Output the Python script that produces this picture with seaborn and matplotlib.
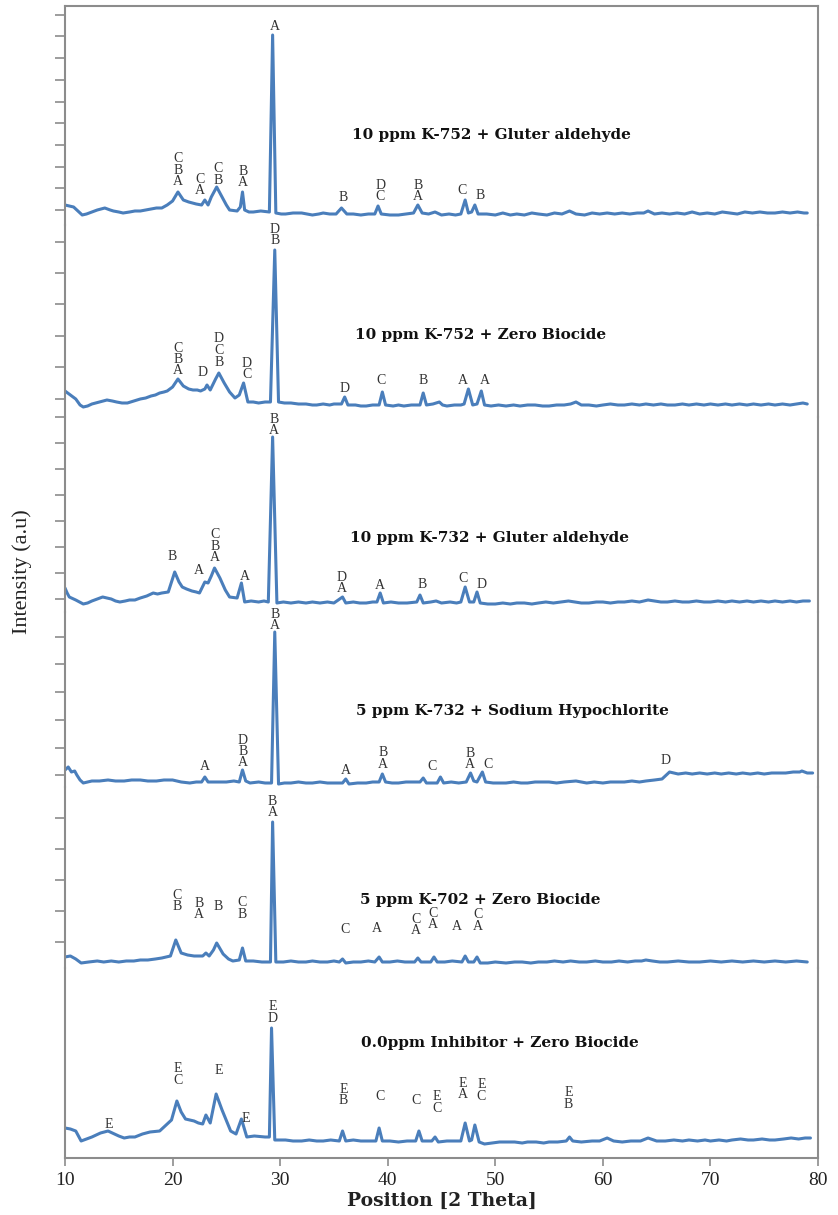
import numpy as np
import pandas as pd
import matplotlib
matplotlib.use("Agg")
import matplotlib.pyplot as plt
import seaborn as sns

sns.set_theme(style="white")
plt.rcParams['font.family'] = ['Liberation Serif', 'DejaVu Serif']

# ---------------- data: (2-theta in degrees, intensity in a.u.) ----------------
p1_pts = [(10.0,20),(10.4,19),(10.8,18),(11.2,14),(11.6,10),(12.0,11),(12.5,13),(13.0,15),(13.7,17),(14.2,15),
          (14.5,14),(15.0,13),(15.4,12),(16.0,13),(16.5,14),(17.0,14),(17.5,15),(18.0,16),(18.5,17),(19.0,17),
          (19.5,20),(20.0,24),(20.5,33),(21.0,25),(21.5,23),(22.2,21),(22.7,20),(23.0,25),(23.3,20),(23.6,28),
          (24.1,38),(24.6,28),(25.0,20),(25.3,15),(26.0,14),(26.3,18),(26.5,33),(26.7,15),(27.1,13),(27.5,13),
          (28.2,14),(29.0,13),(29.3,190),(29.6,12),(30.1,11),(30.5,11),(31.2,12),(32.0,12),(32.5,11),(33.0,10),
          (33.6,11),(34.0,12),(34.6,11),(35.2,11),(35.7,17),(36.2,11),(36.8,11),(37.5,10),(38.2,11),(38.8,11),
          (39.1,19),(39.4,11),(40.2,10),(41.0,10),(41.7,11),(42.4,12),(42.8,20),(43.2,12),(43.8,11),(44.4,13),
          (45.0,10),(45.7,11),(46.3,10),(46.8,11),(47.2,25),(47.5,12),(47.8,13),(48.1,20),(48.4,11),(49.2,11),
          (50.0,10),(50.7,12),(51.4,10),(52.0,11),(52.7,10),(53.4,12),(54.0,11),(54.8,10),(55.5,12),(56.2,11),
          (56.9,14),(57.5,11),(58.3,10),(59.0,12),(59.7,11),(60.4,12),(61.1,11),(61.8,12),(62.5,11),(63.2,12),
          (63.8,12),(64.2,14),(64.8,11),(65.5,12),(66.2,11),(66.9,12),(67.6,11),(68.3,13),(69.0,11),(69.7,12),
          (70.4,11),(71.1,13),(71.8,12),(72.5,11),(73.2,13),(73.9,12),(74.6,13),(75.3,12),(76.0,12),(76.7,13),
          (77.4,12),(78.1,13),(78.7,12),(79.0,12)]

p2_pts = [(10.0,26),(10.5,22),(11.0,18),(11.4,12),(11.7,10),(12.1,11),(12.5,13),(13.2,15),(13.9,17),(14.4,16),
          (14.8,15),(15.3,14),(15.8,14),(16.4,16),(17.0,18),(17.5,19),(18.0,21),(18.4,22),(18.8,24),(19.2,25),
          (19.5,26),(20.0,30),(20.5,38),(21.0,31),(21.5,28),(21.9,27),(22.3,27),(22.6,26),(23.0,28),(23.2,32),
          (23.5,27),(24.0,38),(24.3,44),(24.8,34),(25.3,25),(25.8,19),(26.2,22),(26.6,34),(27.0,15),(27.5,15),
          (28.0,14),(28.6,15),(29.1,15),(29.5,167),(29.85,15),(30.4,14),(31.0,14),(31.7,13),(32.4,13),(33.0,12),
          (33.4,12),(34.0,13),(34.6,12),(35.0,13),(35.7,13),(36.0,20),(36.3,12),(37.0,12),(37.5,11),(38.0,11),
          (38.6,12),(39.2,12),(39.5,25),(39.8,12),(40.5,11),(41.0,12),(41.5,11),(42.2,12),(43.0,12),(43.3,24),
          (43.6,12),(44.2,13),(44.8,15),(45.1,12),(45.5,11),(46.2,12),(46.8,12),(47.1,13),(47.5,28),(47.9,12),
          (48.3,13),(48.7,26),(49.0,12),(49.6,11),(50.3,12),(51.0,11),(51.7,12),(52.3,11),(53.0,12),(53.7,12),
          (54.4,11),(55.0,11),(55.7,12),(56.4,12),(57.0,13),(57.5,15),(58.0,12),(58.7,12),(59.4,11),(60.0,12),
          (60.7,13),(61.4,12),(62.0,12),(62.7,13),(63.4,12),(64.0,13),(64.7,12),(65.4,13),(66.0,12),(66.7,12),
          (67.4,13),(68.0,12),(68.7,13),(69.4,12),(70.0,13),(70.7,12),(71.4,13),(72.0,12),(72.7,13),(73.4,12),
          (74.0,13),(74.7,12),(75.4,13),(76.0,12),(76.7,13),(77.4,12),(78.0,13),(78.6,14),(79.0,13)]

p3_pts = [(10.0,24),(10.2,19),(10.4,15),(11.0,12),(11.7,8),(12.1,9),(12.5,11),(13.0,13),(13.5,15),(13.9,14),
          (14.3,13),(14.7,11),(15.1,10),(15.6,11),(16.0,12),(16.5,12),(17.0,14),(17.6,16),(18.2,19),(18.6,18),
          (19.0,19),(19.6,20),(20.2,40),(20.6,30),(20.9,25),(21.3,23),(21.8,21),(22.2,20),(22.5,19),(23.0,30),
          (23.3,29),(23.6,36),(23.9,44),(24.4,34),(24.9,22),(25.3,15),(26.0,14),(26.4,29),(26.7,10),(27.3,11),
          (28.0,10),(28.5,11),(28.9,10),(29.3,175),(29.7,9),(30.3,10),(31.0,9),(31.7,10),(32.4,9),(33.0,10),
          (33.7,9),(34.4,10),(35.0,9),(35.8,15),(36.1,9),(36.8,10),(37.4,9),(38.0,9),(38.6,10),(39.0,10),
          (39.3,19),(39.6,9),(40.3,10),(41.0,9),(41.8,9),(42.7,10),(43.0,17),(43.3,9),(44.0,10),(44.5,11),
          (45.0,9),(45.8,10),(46.4,9),(46.8,10),(47.2,25),(47.6,10),(48.0,10),(48.3,20),(48.6,9),(49.3,8),
          (50.0,8),(50.7,9),(51.4,8),(52.0,9),(52.7,9),(53.4,8),(54.0,9),(54.7,10),(55.4,9),(56.1,10),
          (56.8,11),(57.4,10),(58.0,9),(58.7,9),(59.4,10),(60.0,10),(60.7,9),(61.4,10),(62.0,10),(62.7,11),
          (63.4,10),(64.2,12),(64.8,11),(65.4,10),(66.0,10),(66.7,11),(67.4,10),(68.0,10),(68.7,11),(69.4,10),
          (70.0,10),(70.7,11),(71.4,10),(72.0,11),(72.7,10),(73.4,11),(74.0,10),(74.7,11),(75.4,10),(76.0,11),
          (76.7,10),(77.4,11),(78.0,10),(78.6,11),(79.2,11)]

p4_pts = [(10.0,17),(10.3,20),(10.6,15),(10.9,16),(11.1,12),(11.4,7),(11.7,4),(12.1,5),(12.5,6),(13.2,6),
          (14.0,7),(14.7,6),(15.5,6),(16.2,7),(17.0,7),(17.7,6),(18.5,6),(19.2,7),(20.0,7),(20.8,5),
          (21.6,4),(22.2,5),(22.7,5),(23.0,10),(23.3,5),(24.1,5),(25.0,5),(25.7,6),(26.2,5),(26.5,17),
          (26.8,6),(27.2,4),(28.0,5),(28.6,4),(29.2,4),(29.5,155),(29.85,3),(30.4,4),(31.0,4),(31.7,5),
          (32.4,4),(33.0,4),(33.7,5),(34.4,4),(35.0,4),(35.8,4),(36.1,8),(36.4,3),(37.2,4),(38.0,4),
          (38.6,5),(39.2,5),(39.5,13),(39.8,5),(40.4,4),(41.0,4),(41.7,5),(42.4,5),(43.0,5),(43.3,9),
          (43.6,4),(44.1,4),(44.6,4),(44.9,10),(45.2,4),(45.9,5),(46.6,4),(47.3,5),(47.7,14),(48.0,6),
          (48.3,5),(48.8,15),(49.1,5),(49.8,4),(50.5,4),(51.0,4),(51.7,5),(52.4,4),(53.0,4),(53.7,5),
          (54.4,5),(55.0,5),(55.7,4),(56.4,5),(57.5,6),(58.5,4),(59.2,5),(60.0,4),(60.7,5),(61.4,5),
          (62.0,5),(62.7,6),(63.4,5),(64.0,6),(64.8,7),(65.5,8),(65.9,12),(66.2,15),(66.6,14),(67.0,13),
          (67.7,14),(68.3,13),(69.0,14),(69.7,13),(70.4,14),(71.0,13),(71.7,14),(72.4,13),(73.0,14),(73.7,13),
          (74.4,14),(75.0,13),(75.7,14),(76.4,14),(77.0,14),(77.7,15),(78.3,15),(78.5,16),(79.0,14),(79.5,14)]

p5_pts = [(10.0,11),(10.5,12),(11.0,9),(11.5,5),(12.2,6),(13.0,7),(13.6,6),(14.3,7),(15.0,6),(15.7,7),
          (16.4,7),(17.0,8),(17.7,8),(18.4,9),(19.0,10),(19.8,12),(20.3,28),(20.8,15),(21.4,13),(22.0,12),
          (22.8,12),(23.1,15),(23.4,12),(23.8,18),(24.1,25),(24.7,14),(25.2,9),(25.6,7),(26.2,8),(26.5,20),
          (26.8,7),(27.5,7),(28.3,6),(29.1,6),(29.3,146),(29.6,6),(30.3,6),(31.0,7),(31.7,6),(32.4,6),
          (33.0,7),(33.7,6),(34.4,6),(35.0,7),(35.5,6),(35.8,9),(36.1,5),(36.8,6),(37.5,6),(38.2,7),
          (38.8,6),(39.2,11),(39.5,6),(40.2,6),(40.9,7),(41.6,6),(42.5,6),(42.8,10),(43.1,6),(43.6,6),
          (44.0,6),(44.3,11),(44.6,6),(45.3,6),(46.0,7),(46.9,6),(47.2,12),(47.5,6),(48.0,6),(48.3,11),
          (48.6,5),(49.3,5),(50.0,6),(51.0,5),(51.8,6),(52.5,6),(53.3,5),(54.0,6),(54.8,6),(55.5,7),
          (56.3,6),(57.0,7),(57.8,6),(58.5,6),(59.3,7),(60.0,6),(60.8,6),(61.5,7),(62.3,6),(63.0,7),
          (63.6,7),(64.0,8),(64.6,7),(65.3,6),(66.0,6),(67.0,7),(68.0,6),(69.0,6),(70.0,7),(71.0,6),
          (72.0,7),(73.0,6),(74.0,7),(75.0,6),(76.0,7),(77.0,6),(78.0,7),(79.0,6)]

p6_pts = [(10.0,30),(10.5,29),(11.0,27),(11.5,17),(12.0,19),(12.5,21),(13.3,25),(14.0,27),(14.6,24),(15.0,22),
          (15.5,20),(16.0,21),(16.5,21),(17.2,24),(17.9,26),(18.8,27),(19.4,33),(19.9,38),(20.4,57),(20.8,46),
          (21.2,39),(22.0,37),(22.4,35),(22.8,34),(23.1,43),(23.5,35),(24.05,64),(24.6,48),(25.4,27),(25.9,24),
          (26.4,39),(26.9,21),(27.6,22),(28.6,21),(29.0,21),(29.2,130),(29.5,18),(30.0,18),(30.5,18),(31.2,17),
          (32.0,17),(32.7,18),(33.4,17),(34.0,17),(34.7,18),(35.5,17),(35.8,27),(36.1,17),(36.8,18),(37.5,17),
          (38.2,17),(38.9,17),(39.2,30),(39.5,17),(40.2,17),(41.0,16),(41.8,17),(42.6,17),(42.9,27),(43.2,17),
          (43.7,17),(44.1,17),(44.4,21),(44.7,16),(45.5,17),(46.2,17),(46.8,17),(47.2,35),(47.6,17),(47.8,18),
          (48.1,33),(48.5,16),(49.0,14),(49.7,15),(50.4,16),(51.0,16),(51.8,16),(52.5,15),(53.0,16),(53.8,16),
          (54.5,15),(55.0,16),(55.8,16),(56.6,17),(56.9,21),(57.2,17),(58.0,16),(59.0,17),(59.7,17),(60.4,20),
          (61.0,17),(61.8,16),(62.6,17),(63.5,17),(64.2,20),(65.0,17),(65.8,17),(66.6,18),(67.4,17),(68.0,18),
          (68.8,17),(69.5,18),(70.0,17),(70.8,18),(71.5,17),(72.0,18),(72.8,19),(73.5,18),(74.0,18),(74.8,19),
          (75.5,18),(76.0,18),(76.8,19),(77.5,20),(78.2,19),(78.8,20),(79.3,20)]

# peak phase labels: x (deg), y of label bottom (a.u.), text
p1_lab_x = [20.5, 22.55, 24.2, 26.55, 29.5, 35.85, 39.3, 42.8, 46.9, 48.6]
p1_lab_y = [37, 27.5, 38.5, 35.5, 192.5, 20.5, 21.5, 21.5, 27.5, 22.5]
p1_lab_t = ["C\nB\nA", "C\nA", "C\nB", "B\nA", "A", "B", "D\nC", "B\nA", "C", "B"]

p2_lab_x = [20.5, 22.8, 24.3, 26.9, 29.5, 36.0, 39.4, 43.3, 47.0, 49.0]
p2_lab_y = [39.5, 37.5, 48.5, 35.5, 169.5, 21.5, 29.5, 29.5, 29.5, 29.5]
p2_lab_t = ["C\nB\nA", "D", "D\nC\nB", "D\nC", "D\nB", "D", "C", "B", "A", "A"]

p3_lab_x = [19.95, 22.45, 23.95, 26.7, 29.4, 35.75, 39.3, 43.2, 47.0, 48.7]
p3_lab_y = [48.5, 34.5, 47.5, 28.5, 174.5, 16.5, 19.5, 20.5, 26.5, 20.5]
p3_lab_t = ["B", "A", "C\nB\nA", "A", "B\nA", "D\nA", "A", "B", "C", "D"]

p4_lab_x = [23.0, 26.55, 29.5, 36.1, 39.55, 44.1, 47.65, 49.3, 65.8]
p4_lab_y = [14.5, 17.5, 154.5, 10.5, 16.5, 14.5, 15.5, 16.5, 19.5]
p4_lab_t = ["A", "D\nB\nA", "B\nA", "A", "B\nA", "C", "B\nA", "C", "D"]

p5_lab_x = [20.4, 22.45, 24.2, 26.45, 29.3, 36.0, 39.0, 42.6, 44.2, 46.4, 48.4]
p5_lab_y = [54.5, 46.5, 54.5, 47.5, 148.5, 32, 33, 30.5, 36.5, 34.5, 35.5]
p5_lab_t = ["C\nB", "B\nA", "B", "C\nB", "B\nA", "C", "A", "C\nA", "C\nA", "A", "C\nA"]

p6_lab_x = [14.1, 20.5, 24.3, 26.8, 29.3, 35.9, 39.3, 42.6, 44.6, 47.0, 48.7, 56.8]
p6_lab_y = [27.5, 71.5, 80.5, 33, 133, 50.5, 55.5, 50.5, 43.5, 56.5, 55.5, 47.5]
p6_lab_t = ["E", "E\nC", "E", "E", "E\nD", "E\nB", "C", "C", "E\nC", "E\nA", "E\nC", "E\nB"]

titles = ["10 ppm K-752 + Gluter aldehyde",
          "10 ppm K-752 + Zero Biocide",
          "10 ppm K-732 + Gluter aldehyde",
          "5 ppm K-732 + Sodium Hypochlorite",
          "5 ppm K-702 + Zero Biocide",
          "0.0ppm Inhibitor + Zero Biocide"]
title_x = [49.6, 48.6, 49.5, 51.6, 48.6, 50.4]
title_y = [90, 82, 74, 76, 68, 115]

x_ticks = [10, 20, 30, 40, 50, 60, 70, 80]

series = [p1_pts, p2_pts, p3_pts, p4_pts, p5_pts, p6_pts]
labels = [(p1_lab_x, p1_lab_y, p1_lab_t), (p2_lab_x, p2_lab_y, p2_lab_t), (p3_lab_x, p3_lab_y, p3_lab_t),
          (p4_lab_x, p4_lab_y, p4_lab_t), (p5_lab_x, p5_lab_y, p5_lab_t), (p6_lab_x, p6_lab_y, p6_lab_t)]

# ---------------- layout ----------------
W, H = 838, 1215
fig = plt.figure(figsize=(W / 100, H / 100), dpi=100)
bounds = [6, 225, 417, 612, 787, 968, 1158]
left, right = 65, 818
tick_px = [
    [15, 36, 58, 80, 102, 123, 145, 167, 188, 210],
    [242, 273, 304, 336, 367, 399],
    [417, 443, 469, 495, 521, 547, 573, 599],
    [637, 664, 692, 720, 748, 775],
    [818, 849, 880, 911, 942],
    [],
]
axis_col = "#8c8c8c"
line_col = "#4a7ebb"

for i in range(6):
    t, b = bounds[i], bounds[i + 1]
    ax = fig.add_axes([left / W, 1 - b / H, (right - left) / W, (b - t) / H])
    df = pd.DataFrame(series[i], columns=["theta", "intensity"])
    sns.lineplot(data=df, x="theta", y="intensity", ax=ax, color=line_col, lw=2.2,
                 estimator=None, sort=False)
    ax.set_xlim(10, 80)
    ax.set_ylim(0, b - t)
    ax.set_xlabel("")
    ax.set_ylabel("")
    for s in ["top", "bottom", "left", "right"]:
        ax.spines[s].set_visible(False)
    for s in ["left", "right"]:
        ax.spines[s].set_visible(True)
        ax.spines[s].set_color(axis_col)
        ax.spines[s].set_linewidth(1.5)
    if i == 0:
        ax.spines["top"].set_visible(True)
        ax.spines["top"].set_color(axis_col)
        ax.spines["top"].set_linewidth(1.5)
    ax.set_yticks([b - p for p in tick_px[i]])
    ax.set_yticklabels([])
    ax.tick_params(axis="y", direction="out", length=7, width=1.2, color=axis_col, left=True, right=False)
    if i == 5:
        ax.spines["bottom"].set_visible(True)
        ax.spines["bottom"].set_color(axis_col)
        ax.spines["bottom"].set_linewidth(1.5)
        ax.set_xticks(x_ticks)
        ax.set_xticklabels([str(v) for v in x_ticks], fontsize=14, color="#222222")
        ax.tick_params(axis="x", direction="out", length=6, width=1.2, color=axis_col, bottom=True, pad=4)
        ax.set_xlabel("Position [2 Theta]", fontsize=13.5, fontweight="bold", color="#222222",
                      labelpad=2, family=["DejaVu Serif"])
    else:
        ax.set_xticks([])
    lx, ly, lt = labels[i]
    for x, y, s in zip(lx, ly, lt):
        ax.text(x, y, s, ha="center", va="bottom", fontsize=10, linespacing=0.85, color="#333333")
    ax.text(title_x[i], title_y[i], titles[i], ha="center", va="center", fontsize=11,
            fontweight="bold", color="#111111", family=["DejaVu Serif"])
    ax.patch.set_alpha(0)

fig.text(22 / W, 1 - 572 / H, "Intensity (a.u)", rotation=90, ha="center", va="center",
         fontsize=16, color="#222222")

fig.savefig("out.png", dpi=100)
